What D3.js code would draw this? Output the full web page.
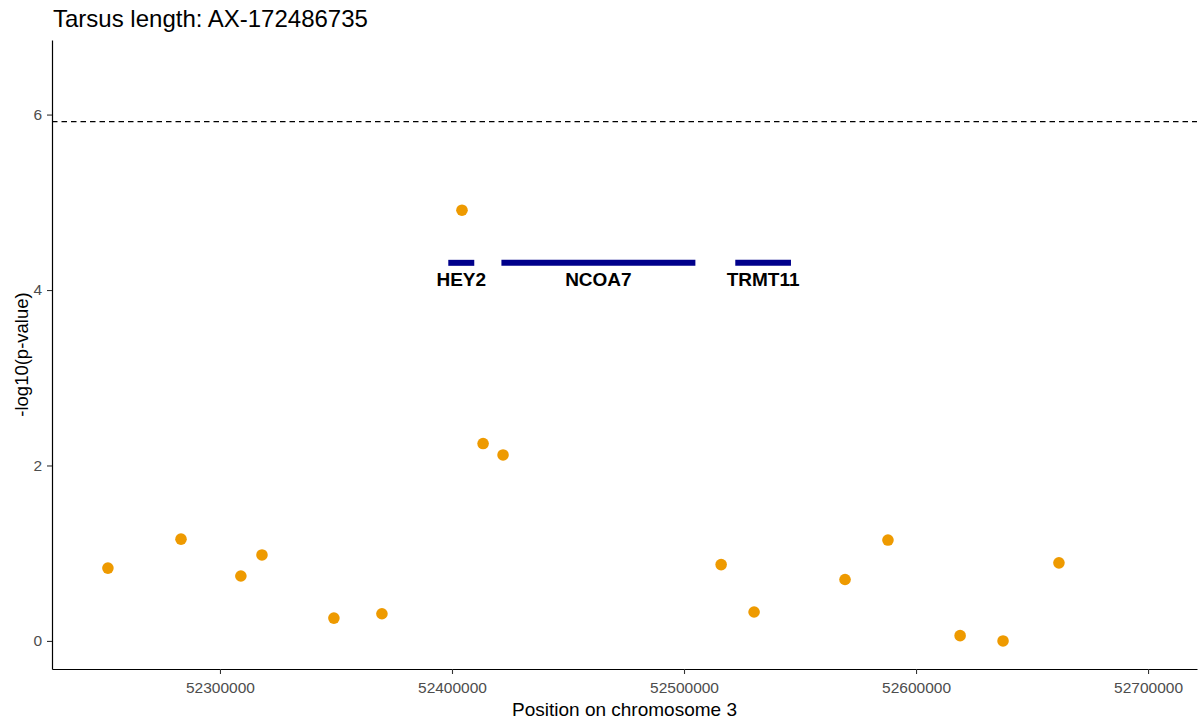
<!DOCTYPE html>
<html>
<head>
<meta charset="utf-8">
<title>Tarsus length: AX-172486735</title>
<style>
  body { margin: 0; background: #fff; }
  svg { font-family: "Liberation Sans", Arial, sans-serif; display: block; }
  .tick text { fill: #4d4d4d; font-size: 15.5px; }
  .tick line { stroke: #333; stroke-width: 1.1; }
</style>
</head>
<body>
<div id="chart"></div>
<script src="https://cdn.jsdelivr.net/npm/d3@7"></script>
<script>
(function (d3) {
  'use strict';

  // SNP positions on chromosome 3 and their -log10(p)
  var positions = [52251700, 52283200, 52309000, 52318100, 52349100, 52369800,
    52404300, 52413400, 52422000, 52516000, 52530200, 52569400, 52587900,
    52619000, 52637500, 52661600];
  var logp = [0.83, 1.16, 0.74, 0.98, 0.26, 0.31, 4.91, 2.25, 2.12, 0.87,
    0.33, 0.70, 1.15, 0.06, 0.00, 0.89];

  // genes in the window
  var geneNames = ['HEY2', 'NCOA7', 'TRMT11'];
  var geneStart = [52398400, 52421300, 52522100];
  var geneEnd = [52409600, 52504900, 52546100];
  var geneY = 4.31;
  var geneLabelY = 4.12;

  var threshold = 5.92;
  var xTicks = [52300000, 52400000, 52500000, 52600000, 52700000];
  var yTicks = [0, 2, 4, 6];

  var width = 1198, height = 725;
  var margin = { top: 40, right: 1, bottom: 56, left: 52 };
  var innerW = width - margin.left - margin.right;
  var innerH = height - margin.top - margin.bottom;

  var x = d3.scaleLinear().domain([52227600, 52721100]).range([0, innerW]);
  var y = d3.scaleLinear().domain([-0.32, 6.85]).range([innerH, 0]);

  var svg = d3.select('#chart').append('svg')
    .attr('width', width)
    .attr('height', height);

  var g = svg.append('g')
    .attr('transform', 'translate(' + margin.left + ',' + margin.top + ')');

  // significance line
  g.append('line')
    .attr('x1', 0).attr('x2', innerW)
    .attr('y1', y(threshold)).attr('y2', y(threshold))
    .attr('stroke', '#000')
    .attr('stroke-width', 1.2)
    .attr('stroke-dasharray', '5.5,4');

  // gene bars
  var genes = geneNames.map(function (n, i) {
    return { name: n, start: geneStart[i], end: geneEnd[i] };
  });

  g.selectAll('.gene')
    .data(genes)
    .enter()
    .append('line')
    .attr('class', 'gene')
    .attr('x1', function (d) { return x(d.start); })
    .attr('x2', function (d) { return x(d.end); })
    .attr('y1', y(geneY)).attr('y2', y(geneY))
    .attr('stroke', '#00008b')
    .attr('stroke-width', 6);

  g.selectAll('.gene-label')
    .data(genes)
    .enter()
    .append('text')
    .attr('class', 'gene-label')
    .attr('x', function (d) { return x((d.start + d.end) / 2); })
    .attr('y', y(geneLabelY))
    .attr('dy', '0.35em')
    .attr('text-anchor', 'middle')
    .style('font-size', '19px')
    .style('font-weight', 'bold')
    .style('fill', '#000')
    .text(function (d) { return d.name; });

  // points
  var snps = positions.map(function (p, i) { return { pos: p, v: logp[i] }; });

  g.selectAll('.snp')
    .data(snps)
    .enter()
    .append('circle')
    .attr('class', 'snp')
    .attr('cx', function (d) { return x(d.pos); })
    .attr('cy', function (d) { return y(d.v); })
    .attr('r', 5.8)
    .attr('fill', '#ee9a00');

  // axes
  var xAxis = g.append('g')
    .attr('transform', 'translate(0,' + innerH + ')')
    .call(d3.axisBottom(x).tickValues(xTicks).tickFormat(d3.format('d'))
      .tickSize(5).tickSizeOuter(0).tickPadding(8));
  xAxis.select('.domain').attr('stroke', '#000').attr('stroke-width', 1.2);

  var yAxis = g.append('g')
    .call(d3.axisLeft(y).tickValues(yTicks).tickFormat(d3.format('d'))
      .tickSize(5).tickSizeOuter(0).tickPadding(5));
  yAxis.select('.domain').attr('stroke', '#000').attr('stroke-width', 1.2);

  // titles
  svg.append('text')
    .attr('x', 53)
    .attr('y', 27)
    .style('font-size', '24px')
    .style('fill', '#000')
    .text('Tarsus length: AX-172486735');

  svg.append('text')
    .attr('x', margin.left + innerW / 2)
    .attr('y', 716)
    .attr('text-anchor', 'middle')
    .style('font-size', '19px')
    .style('fill', '#000')
    .text('Position on chromosome 3');

  svg.append('text')
    .attr('transform', 'translate(28,' + (margin.top + innerH / 2) + ') rotate(-90)')
    .attr('text-anchor', 'middle')
    .style('font-size', '18.5px')
    .style('fill', '#000')
    .text('-log10(p-value)');

})(window.d3);
</script>
</body>
</html>
